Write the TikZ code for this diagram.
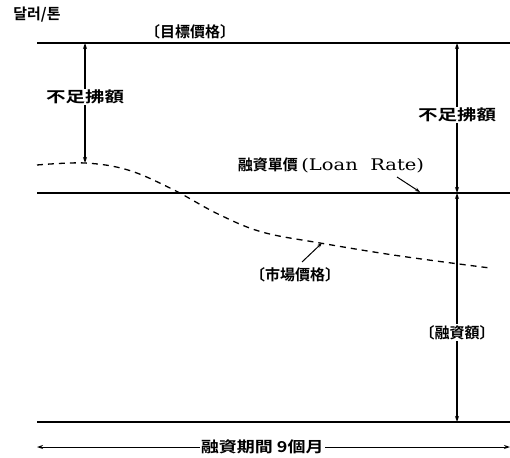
\documentclass[tikz,border=0pt]{standalone}
\usepackage{fontspec}
\usepackage{graphicx}
\newfontfamily\cjk{Noto Sans CJK KR}[BoldFont={Noto Sans CJK KR Bold}]
\newfontfamily\latin{DejaVu Serif}
\usetikzlibrary{arrows.meta}
\tikzset{
  lbl/.style={font=\cjk\bfseries\fontsize{15}{15}\selectfont, inner sep=1pt},
  gap/.style={lbl, fill=white},
  wide/.style={xscale=1.3, transform shape},
  dim/.style={{Stealth[length=6pt,width=4pt]}-{Stealth[length=6pt,width=4pt]}, line width=1.3pt},
  ptr/.style={-{Stealth[length=5pt,width=3.5pt]}, line width=1pt},
  level/.style={line width=1.5pt}
}
\begin{document}
\begin{tikzpicture}[x=1pt,y=-1pt]
\useasboundingbox (0,0) rectangle (510,457);
% levels
\coordinate (tl) at (37,43);  \coordinate (tr) at (510,43);
\coordinate (ml) at (37,193); \coordinate (mr) at (510,193);
\coordinate (bl) at (37,422); \coordinate (br) at (510,422);
\draw[level] (tl) -- (tr);
\draw[level] (ml) -- (mr);
\draw[level] (bl) -- (br);
% market price
\draw[line width=1.3pt, dash pattern=on 6pt off 5pt] plot[smooth, tension=.6] coordinates
  {(37,165) (85,163) (128,170) (172,189) (218,214) (262,232) (320,243) (400,256) (490,268)};
% left shortfall
\coordinate (la) at (85,43); \coordinate (lb) at (85,163);
\draw[dim] (la) -- node[gap, wide, pos=.45] {不足拂額} (lb);
% right shortfall and loan amount
\coordinate (ra) at (457,43); \coordinate (rb) at (457,193); \coordinate (rc) at (457,422);
\draw[dim] (ra) -- node[gap, wide, pos=.48] {不足拂額} (rb);
\draw[dim] (rb) -- node[gap, pos=.61] {〔融資額〕} (rc);
% labels
\node[lbl] (unit) at (37,15) {달러/톤};
\node[lbl] (target) at (190,32) {〔目標價格〕};
\node[lbl] (loan) at (331,165) {融資單價 \scalebox{1.22}[1]{\latin\mdseries\fontsize{16}{16}\selectfont(Loan\ \ Rate)}};
\coordinate (lq) at (397,177); \coordinate (lp) at (420,192);
\draw[ptr] (lq) -- (lp);
\node[lbl] (market) at (295,275) {〔市場價格〕};
\coordinate (mq) at (302,262); \coordinate (mp) at (322,243);
\draw[ptr] (mq) -- (mp);
% loan period
\coordinate (pl) at (37,447); \coordinate (pr) at (510,447);
\draw[dim, line width=1pt] (pl) -- node[gap, xscale=1.2, transform shape, pos=.476] {融資期間 9個月} (pr);
\end{tikzpicture}
\end{document}
